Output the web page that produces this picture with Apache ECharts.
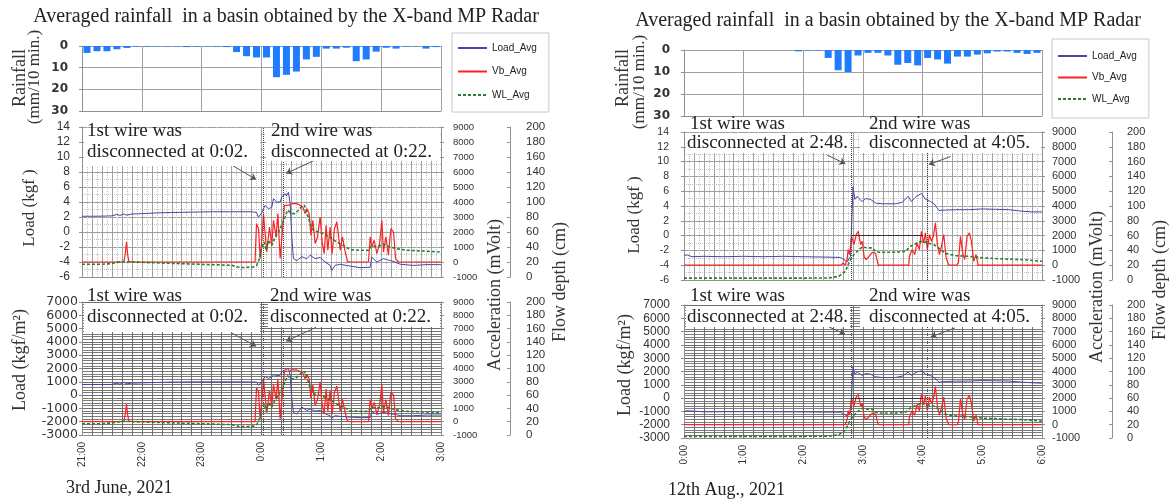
<!DOCTYPE html>
<html>
<head>
<meta charset="utf-8">
<script src="https://cdn.jsdelivr.net/npm/echarts@6.0.0/dist/echarts.min.js"></script>
<style>
  html, body { margin: 0; padding: 0; background: #fff; }
  #chart { width: 1170px; height: 499px; }
</style>
</head>
<body>
<div id="chart"></div>
<script>
// ---- data (x = minutes from the start of each panel) ----
const leftHours = ['21:00', '22:00', '23:00', '0:00', '1:00', '2:00', '3:00'];
const rightHours = ['0:00', '1:00', '2:00', '3:00', '4:00', '5:00', '6:00'];

// rainfall, 10 min bins (mm/10 min.)
const leftRain = [3.2, 2.4, 2.4, 1.5, 0.9, 0.3, 0.3, 0.2, 0.2, 0.2, 0.5, 0.3, 0.2, 0.3, 0.5, 2.8, 4.7, 5.3,
  5.3, 14.4, 13.3, 11.8, 6.2, 5.0, 1.2, 1.2, 0.8, 7.0, 6.2, 2.6, 0.8, 1.2, 0.3, 0.2, 1.2, 0.5];
const rightRain = [0, 0, 0, 0, 0, 0, 0, 0, 0, 0, 0, 0.6, 0.2, 0.2, 3.6, 9.2, 10, 2.5,
  1.3, 1.3, 2.5, 6.7, 5.9, 7.0, 3.6, 4.3, 6.2, 3.0, 3.0, 2.1, 1.5, 0.7, 0.7, 1.3, 1.8, 1.3];

// 3rd June 2021 (21:00 - 3:00)
const leftLoadKgf = [[0, 2.1], [15, 2.1], [30, 2.15], [35, 2.35], [38, 2.2], [42, 2.4], [45, 2.25], [50, 2.4],
  [60, 2.45], [75, 2.55], [90, 2.6], [110, 2.65], [130, 2.7], [150, 2.7], [170, 2.7], [175, 2.6], [177, 2.0],
  [180, 2.5], [183.6, 3.55], [187, 3.1], [190.3, 3.3], [192, 4.45], [195.3, 4.0], [198.7, 4.0], [200.3, 4.65],
  [203.7, 5.1], [205, 4.8], [207, 5.3], [208.7, 3.8], [210.4, -0.7], [212, -3.55], [215.4, -3.8], [220.4, -3.3],
  [225.4, -3.55], [228.8, -3.1], [233.8, -3.55], [238.8, -3.4], [243.8, -4.0], [248.8, -4.45], [250.5, -5.1],
  [253.8, -4.45], [258.9, -4.3], [268.9, -4.55], [278.9, -4.75], [289, -4.7], [290.6, -3.35], [295.7, -4.0],
  [302.3, -3.55], [309, -3.8], [314, -4.0], [319, -4.3], [332, -4.45], [346, -4.35], [360, -4.35]];
const leftLoadKgfm2 = [[0, 800], [30, 800], [35, 900], [38, 820], [42, 950], [45, 850], [50, 900], [60, 920],
  [90, 980], [120, 1000], [150, 1000], [175, 980], [177, 750], [180, 950], [183.6, 1400], [187, 1250],
  [190.3, 1350], [192, 1550], [195.3, 1450], [198.7, 1500], [200.3, 1750], [203.7, 1900], [205, 1800],
  [207, 2000], [208.7, 1500], [210.4, -300], [212, -1300], [215.4, -1420], [220.4, -900], [225.4, -1150],
  [228.8, -1050], [233.8, -1200], [238.8, -1150], [243.8, -1400], [248.8, -1550], [250.5, -1750],
  [253.8, -1550], [258.9, -1600], [268.9, -1650], [278.9, -1700], [289, -1680], [290.6, -1250], [295.7, -1450],
  [302.3, -1300], [309, -1400], [314, -1450], [319, -1550], [332, -1550], [346, -1500], [360, -1500]];
const leftVib = [[0, 0], [42, 0], [43.5, 600], [44.6, 1350], [45.8, 500], [47, 50], [52, 0], [173.5, 0],
  [175, 2560], [177, 2230], [178.7, 230], [180.3, 1450], [182, 3230], [183.6, 1900], [185.3, 670], [188, 2330],
  [190.3, 1110], [192, 2780], [194.7, 1670], [196.4, 3230], [198.7, 230], [201, 2110], [203, 3780], [207, 3780],
  [210.4, 3890], [215.4, 3890], [218.8, 3780], [221.4, 3670], [223.7, 3230], [225.4, 3560], [227.8, 3230],
  [229.5, 1780], [231.5, 2780], [233.8, 1230], [236.2, 1670], [238.8, 3000], [240.8, 1330], [242.8, 560],
  [244.8, 2450], [246.5, 780], [248.8, 2330], [250.8, 560], [253.2, 2230], [255.5, 2670], [257.2, 1780],
  [258.9, 780], [261.2, 1670], [263.9, 670], [266.3, 40], [268.9, 0], [287.3, 0], [289, 1670], [290.6, 1000],
  [293, 1450], [295.7, 560], [298.4, 1230], [300.7, 2780], [302.3, 670], [304.7, 1670], [307.3, 450],
  [309.7, 2230], [312.4, 2000], [314.4, 230], [317.4, 0], [360, 0]];
const leftWL = [[0, 17], [20, 17], [30, 18], [35, 19.5], [40, 20.6], [60, 19.6], [90, 18.2], [120, 16.9],
  [150, 15.6], [158.5, 12.5], [172, 13.3], [175.3, 15.6], [178, 24.5], [180.3, 40], [182.7, 46.7], [184.7, 35.6],
  [187, 49], [190.3, 42], [193.7, 53], [197, 60], [200.3, 69], [203.7, 80], [206, 89], [208, 86.7], [210.4, 84.5],
  [213.7, 84.5], [217, 89], [220.4, 94], [223, 95.6], [225.4, 87], [228.8, 71], [232.1, 62], [237.1, 60],
  [242.1, 58], [248.8, 53], [255.5, 46.7], [262.2, 42], [268.9, 36.5], [278.9, 35.6], [287.3, 35.6],
  [290.6, 42], [295.7, 40], [302.3, 43.6], [309, 40], [315.7, 37.8], [325.7, 35.6], [342.4, 34.7], [360, 33.3]];

// 12th Aug. 2021 (0:00 - 6:00)
const rightLoadKgf = [[0, -2.7], [3, -2.6], [5, -2.75], [8, -2.85], [20, -2.8], [40, -2.85], [60, -2.8],
  [80, -2.85], [100, -2.8], [120, -2.85], [140, -2.9], [157.5, -2.95], [159, -3.2], [164, -3.55], [167.5, -2.8],
  [169.9, 6.6], [171.9, 4.9], [174.2, 5.3], [176, 5.0], [179.2, 4.6], [182.6, 5.0], [187.6, 4.9], [192.6, 4.4],
  [199.3, 4.3], [206, 4.3], [212.7, 4.3], [219.4, 4.5], [225.4, 5.3], [228.8, 4.6], [233.5, 5.3], [238.9, 5.7],
  [242.9, 4.9], [247.9, 4.6], [252.3, 4.2], [256.3, 3.4], [263, 3.45], [273, 3.5], [286.4, 3.5], [299.8, 3.6],
  [313.3, 3.55], [326.6, 3.5], [340, 3.3], [350, 3.2], [360, 3.2]];
const rightLoadKgfm2 = [[0, -1000], [3, -950], [5, -1020], [20, -1030], [60, -1020], [100, -1030],
  [140, -1050], [157.5, -1060], [159, -1200], [164, -1350], [167.5, -1100], [169.9, 2350], [171.9, 1800],
  [174.2, 1950], [176, 1850], [179.2, 1700], [182.6, 1850], [187.6, 1800], [192.6, 1600], [199.3, 1550],
  [206, 1550], [212.7, 1550], [219.4, 1650], [225.4, 1950], [228.8, 1700], [233.5, 1950], [238.9, 2050],
  [242.9, 1800], [247.9, 1700], [252.3, 1500], [256.3, 1200], [263, 1250], [273, 1270], [286.4, 1280],
  [299.8, 1320], [313.3, 1300], [326.6, 1280], [340, 1200], [350, 1150], [360, 1120]];
const rightVib = [[0, 0], [158, 0], [160, 150], [162, 0], [164, 380], [165, 1050], [166.5, 720], [168.5, 1950],
  [170.9, 1390], [173.2, 2070], [175.2, 2290], [177.6, 1390], [179.2, 1620], [181.2, 560], [183.3, 380],
  [186, 600], [189.3, 870], [192.6, 800], [195.3, 0], [226, 0], [226.7, 600], [229.3, 1050], [232, 720],
  [234.3, 1500], [236.7, 1050], [238.7, 2290], [241, 1500], [242.7, 2180], [244.7, 1050], [246.8, 2070],
  [248.8, 1620], [250.8, 1950], [252.8, 2860], [254.8, 1390], [256.9, 720], [258.9, 1280], [261.2, 2070],
  [263.6, 490], [266.3, 0], [274.6, 0], [276, 200], [278, 1950], [280.3, 800], [282.3, 380], [284.6, 1950],
  [287, 2180], [289, 1620], [291.4, 270], [293.7, 720], [295.7, 0], [360, 0]];
const rightWL = [[0, 2.5], [30, 2.5], [60, 2.5], [90, 2.5], [120, 2.5], [145.7, 2.8], [155.7, 5], [162.4, 11.8],
  [165, 20.8], [167.5, 27.6], [170.9, 34.3], [175.9, 41], [179.2, 44.7], [184.3, 43.4], [189.3, 43.4],
  [192.6, 38.8], [196, 37.5], [212.7, 37.5], [222.8, 38.8], [227.8, 45.5], [234.5, 50], [239.6, 52.3],
  [244.7, 50], [251.4, 47.8], [258.2, 41], [263.2, 35.7], [273.3, 33], [286.7, 32], [300.1, 29.9],
  [320.3, 28.5], [340.4, 27.6], [360, 25.3]];

// wire disconnection times and annotation arrows (data coordinates)
const leftWires = [182, 202];
const rightWires = [168, 245];
const leftUpArrows = [[[150.5, 8.9], [174.6, 7.0]], [[233.8, 9.6], [204.7, 7.8]]];
const leftLowArrows = [[[150.5, 4650], [174.6, 3675]], [[234.8, 5100], [204.7, 4050]]];
const rightUpArrows = [[[143.7, 10.9], [162.3, 9.7]], [[268.3, 10.7], [246.2, 9.6]]];
const rightLowArrows = [[[145.7, 5350], [161.8, 4820]], [[272.4, 5270], [248.2, 4600]]];

// ---- styles ----
const SERIF = 'Liberation Serif', SANS = 'Liberation Sans', DEJA = 'DejaVu Sans';
const BLUE = '#4646a6', RED = '#ff2020', GREEN = '#2e7d2e', RAIN = '#1f7cff', AXIS = '#909090';
const plain = v => String(v);

const chart = echarts.init(document.getElementById('chart'), null, { renderer: 'canvas' });

const grids = [
  { left: 82, top: 46, width: 359, height: 65 },
  { left: 82, top: 127, width: 359, height: 150 },
  { left: 82, top: 302, width: 359, height: 133 },
  { left: 684, top: 50, width: 358, height: 66 },
  { left: 684, top: 132, width: 358, height: 148 },
  { left: 684, top: 305, width: 358, height: 133 }
];

function xAx(gi, hours, kind) {
  const ax = {
    type: 'value', gridIndex: gi, min: 0, max: 360, interval: kind === 'rain' ? 60 : 10,
    axisLine: { show: true, onZero: false, lineStyle: { color: AXIS } },
    axisTick: { show: false },
    axisLabel: { show: false },
    splitLine: { show: true, lineStyle: { color: kind === 'low' ? '#6c6c6c' : '#a0a0a0', width: 1 } },
    minorTick: { show: false, splitNumber: 2 },
    minorSplitLine: { show: kind === 'up', lineStyle: { color: '#c4c4c4', type: 'dotted' } }
  };
  if (kind === 'low') {
    ax.axisLabel = {
      show: true, rotate: 90, margin: 7, fontSize: 10, fontFamily: SANS, color: '#333',
      formatter: v => (v % 60 === 0 ? hours[v / 60] : '')
    };
  }
  return ax;
}

const yAxes = [];
function addY(o) { yAxes.push(o); return yAxes.length - 1; }

function yLeft(gi, min, max, interval, o) {
  return addY({
    type: 'value', gridIndex: gi, position: 'left', min, max, interval, inverse: !!o.inverse,
    axisLine: { show: true, onZero: false, lineStyle: { color: AXIS } },
    axisTick: { show: true, length: 3, lineStyle: { color: AXIS } },
    axisLabel: { fontSize: o.size, fontFamily: o.family, fontWeight: o.weight || 'normal', color: '#333', margin: o.margin, formatter: plain },
    splitLine: { show: true, lineStyle: { color: o.split, width: 1 } },
    minorTick: { show: false, splitNumber: o.minor || 2 },
    minorSplitLine: { show: !!o.minor, lineStyle: { color: o.minorColor || '#ccc', type: o.minorType || 'solid' } }
  });
}
function yMv(gi, size, margin) {
  return addY({
    type: 'value', gridIndex: gi, position: 'right', min: -1000, max: 9000, interval: 1000,
    axisLine: { show: true, onZero: false, lineStyle: { color: AXIS } },
    axisTick: { show: true, length: 3, lineStyle: { color: AXIS } },
    axisLabel: { fontSize: size, fontFamily: SANS, color: '#333', margin, formatter: plain },
    splitLine: { show: false }
  });
}
function yCm(gi, offset, size, margin) {
  return addY({
    type: 'value', gridIndex: gi, position: 'right', offset, min: 0, max: 200, interval: 20,
    axisLine: { show: true, onZero: false, lineStyle: { color: AXIS } },
    axisTick: { show: true, inside: true, length: 3, lineStyle: { color: AXIS } },
    axisLabel: { fontSize: size, fontFamily: SANS, color: '#333', margin, formatter: plain },
    splitLine: { show: false }
  });
}

const xAxes = [
  xAx(0, leftHours, 'rain'), xAx(1, leftHours, 'up'), xAx(2, leftHours, 'low'),
  xAx(3, rightHours, 'rain'), xAx(4, rightHours, 'up'), xAx(5, rightHours, 'low')
];

const upOpt = { split: '#a0a0a0', minor: 2, minorColor: '#c4c4c4', minorType: 'dotted' };
const lowOpt = { split: '#6c6c6c', minor: 5, minorColor: '#7a7a7a' };

// left panel axes
const yRainL = yLeft(0, 0, 30, 10, { inverse: true, size: 12, family: DEJA, weight: 'bold', margin: 14, split: '#a0a0a0' });
const yUpL = yLeft(1, -6, 14, 2, Object.assign({ size: 12, family: SANS, margin: 12 }, upOpt));
const yUpLmv = yMv(1, 9.5, 12);
const yUpLcm = yCm(1, 69, 11.5, 16);
const yLowL = yLeft(2, -3000, 7000, 1000, Object.assign({ size: 12.5, family: DEJA, margin: 4 }, lowOpt));
const yLowLmv = yMv(2, 9.5, 12);
const yLowLcm = yCm(2, 69, 11.5, 16);
// right panel axes
const yRainR = yLeft(3, 0, 30, 10, { inverse: true, size: 12, family: DEJA, weight: 'bold', margin: 14, split: '#a0a0a0' });
const yUpR = yLeft(4, -6, 14, 2, Object.assign({ size: 10.5, family: SANS, margin: 15 }, upOpt));
const yUpRmv = yMv(4, 11, 10);
const yUpRcm = yCm(4, 70, 11, 15);
const yLowR = yLeft(5, -3000, 7000, 1000, Object.assign({ size: 12, family: SANS, margin: 14 }, lowOpt));
const yLowRmv = yMv(5, 11, 10);
const yLowRcm = yCm(5, 70, 11, 15);

function rainSeries(xi, yi, data) {
  return {
    type: 'bar', name: 'Rainfall', xAxisIndex: xi, yAxisIndex: yi, barWidth: 7,
    itemStyle: { color: RAIN }, data: data.map((v, i) => [i * 10 + 5, v])
  };
}

function arrowItems(arrows) {
  return arrows.map(a => [
    { coord: a[0], symbol: 'none', lineStyle: { color: '#555', width: 1, type: 'solid' } },
    { coord: a[1], symbol: 'arrow', symbolSize: 6 }
  ]);
}

function loadGroup(xi, yL, yV, yC, load, vib, wl, wires, arrows, zeroEnd) {
  const marks = arrowItems(arrows);
  if (zeroEnd) {
    marks.push([
      { coord: [wires[0], 0], symbol: 'none', lineStyle: { color: '#333', width: 1, type: 'solid' } },
      { coord: [zeroEnd, 0], symbol: 'none' }
    ]);
  }
  return [
    {
      type: 'line', name: 'Load_Avg', xAxisIndex: xi, yAxisIndex: yL, data: load, symbol: 'none',
      lineStyle: { color: BLUE, width: 1 }, itemStyle: { color: BLUE }, z: 3,
      markLine: { silent: true, animation: false, label: { show: false }, data: marks }
    },
    {
      type: 'line', name: 'Vb_Avg', xAxisIndex: xi, yAxisIndex: yV, data: vib, symbol: 'none',
      lineStyle: { color: RED, width: 1.2 }, itemStyle: { color: RED }, z: 4,
      markLine: {
        silent: true, animation: false, symbol: ['none', 'none'], label: { show: false },
        lineStyle: { color: '#444', type: 'dotted', width: 1 },
        data: wires.map(w => ({ xAxis: w }))
      }
    },
    {
      type: 'line', name: 'WL_Avg', xAxisIndex: xi, yAxisIndex: yC, data: wl, symbol: 'none',
      lineStyle: { color: GREEN, width: 1.6, type: [3, 2] }, itemStyle: { color: GREEN }, z: 5
    }
  ];
}

const series = [].concat(
  rainSeries(0, yRainL, leftRain),
  loadGroup(1, yUpL, yUpLmv, yUpLcm, leftLoadKgf, leftVib, leftWL, leftWires, leftUpArrows, null),
  loadGroup(2, yLowL, yLowLmv, yLowLcm, leftLoadKgfm2, leftVib, leftWL, leftWires, leftLowArrows, null),
  rainSeries(3, yRainR, rightRain),
  loadGroup(4, yUpR, yUpRmv, yUpRcm, rightLoadKgf, rightVib, rightWL, rightWires, rightUpArrows, 240),
  loadGroup(5, yLowR, yLowRmv, yLowRcm, rightLoadKgfm2, rightVib, rightWL, rightWires, rightLowArrows, 240)
);

// ---- texts ----
function txt(x, y, s, size, o) {
  o = o || {};
  return {
    type: 'text', x, y, z: 20, rotation: o.rot ? Math.PI / 2 : 0, silent: true,
    style: {
      text: s, fontSize: size, fontFamily: o.family || SERIF, fill: o.color || '#222',
      align: o.align || 'center', verticalAlign: 'middle',
      textAlign: o.align || 'center', textVerticalAlign: 'middle'
    }
  };
}
function box(x, y, w, h) {
  return { type: 'rect', z: 10, silent: true, shape: { x, y, width: w, height: h }, style: { fill: '#fff' } };
}
const TITLE = 'Averaged rainfall  in a basin obtained by the X-band MP Radar';
function note(x1, x2, y1, y2, first, t1, t2) {
  return [
    txt(x1, y1, '1st wire was', 19, { align: 'left' }),
    txt(first, y2, 'disconnected at ' + t1 + '.', 19, { align: 'left' }),
    txt(x2, y1, '2nd wire was', 19, { align: 'left' }),
    txt(x2, y2, 'disconnected at ' + t2 + '.', 19, { align: 'left' })
  ];
}

const graphics = [].concat(
  box(84, 128, 176, 38), box(266, 128, 174, 33),
  box(84, 303, 176, 29), box(268, 303, 172, 24),
  box(686, 133, 164, 20), box(860, 133, 181, 20),
  box(686, 306, 164, 21), box(860, 306, 181, 21),
  txt(286, 17, TITLE, 20), txt(888, 21, TITLE, 20),
  txt(66, 488, '3rd June, 2021', 18, { align: 'left' }),
  txt(668, 490, '12th Aug., 2021', 18, { align: 'left' }),
  txt(20, 78, 'Rainfall', 18, { rot: true, color: '#333' }),
  txt(35, 77, '(mm/10 min.)', 17, { rot: true, color: '#333' }),
  txt(30, 208, 'Load (kgf )', 17, { rot: true, color: '#333' }),
  txt(20, 360, 'Load (kgf/m²)', 18, { rot: true, color: '#333' }),
  txt(495, 295, 'Acceleration (mVolt)', 18, { rot: true, color: '#333' }),
  txt(560, 282, 'Flow depth (cm)', 18, { rot: true, color: '#333' }),
  txt(623, 78, 'Rainfall', 18, { rot: true, color: '#333' }),
  txt(640, 82, '(mm/10 min.)', 17, { rot: true, color: '#333' }),
  txt(635, 215, 'Load (kgf )', 17, { rot: true, color: '#333' }),
  txt(625, 365, 'Load (kgf/m²)', 18, { rot: true, color: '#333' }),
  txt(1097, 287, 'Acceleration (mVolt)', 18, { rot: true, color: '#333' }),
  txt(1160, 280, 'Flow depth (cm)', 18, { rot: true, color: '#333' }),
  note(87, 271, 131, 152, 87, '0:02', '0:22'),
  note(87, 270, 296, 317, 87, '0:02', '0:22'),
  note(690, 869, 124, 143, 687, '2:48', '4:05'),
  note(690, 869, 296, 317, 687, '2:48', '4:05')
);

function legendAt(left, top, padding, gap) {
  return {
    data: ['Load_Avg', 'Vb_Avg', 'WL_Avg'], orient: 'vertical', left, top, padding, itemGap: gap,
    itemWidth: 29, itemHeight: 10, borderColor: '#c8c8c8', borderWidth: 1, backgroundColor: '#fff',
    selectedMode: false, itemStyle: { opacity: 0 },
    textStyle: { fontSize: 10, fontFamily: SANS, color: '#222' }
  };
}

chart.setOption({
  animation: false,
  backgroundColor: '#fff',
  grid: grids,
  xAxis: xAxes,
  yAxis: yAxes,
  legend: [legendAt(452, 33, [10, 12, 12, 5], 13.5), legendAt(1052, 39, [12, 12, 14, 5], 11.5)],
  graphic: graphics,
  series: series
});
</script>
</body>
</html>
